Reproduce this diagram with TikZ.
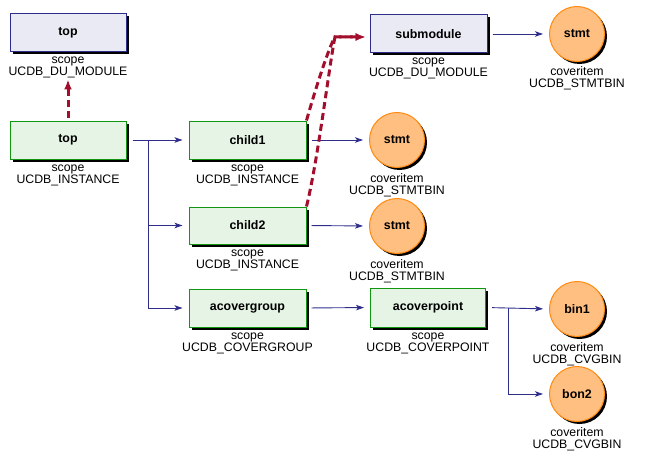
\documentclass[tikz,border=0pt]{standalone}
\usepackage{fontspec}
\setmainfont{Liberation Sans}
\usetikzlibrary{shadows,arrows.meta,positioning}
\definecolor{modfill}{HTML}{EAEAF4}
\definecolor{moddraw}{HTML}{2E2E8A}
\definecolor{instfill}{HTML}{E6F4E6}
\definecolor{instdraw}{HTML}{129612}
\definecolor{itemfill}{HTML}{FFBF80}
\definecolor{itemdraw}{HTML}{FF8A10}
\definecolor{flowcol}{HTML}{2E2E8A}
\definecolor{depcol}{HTML}{A30E2C}
\begin{document}
\begin{tikzpicture}[x=1pt,y=-1pt,
  font=\fontsize{12.3}{12.5}\selectfont,
  shadowed/.style={drop shadow={shadow xshift=2.5pt,shadow yshift=-2.5pt,opacity=1,fill=black}},
  modbox/.style={rectangle,draw=moddraw,fill=modfill,line width=1pt,minimum width=116pt,minimum height=38pt,inner sep=0pt,shadowed,font=\fontsize{12.4}{13}\selectfont\bfseries},
  instbox/.style={modbox,draw=instdraw,fill=instfill},
  itemcirc/.style={circle,draw=itemdraw,fill=itemfill,line width=1pt,minimum size=55pt,inner sep=0pt,shadowed,font=\fontsize{12.4}{13}\selectfont\bfseries},
  lbl/.style={align=center,inner sep=0pt,anchor=north},
  flow/.style={draw=flowcol,line width=0.9pt,-{Stealth[length=8pt,width=5.5pt,inset=2pt]},shorten >=6pt},
  dep/.style={draw=depcol,line width=3pt,dash pattern=on 7pt off 4pt,-{Latex[length=10pt,width=8pt]}},
]
\useasboundingbox (0,0) rectangle (648,460);
% nodes
\node[modbox] (dutop) at (68,33) {top};
\node[lbl] (dutoplbl) at ([yshift=-4pt]dutop.south) {scope\\UCDB\_DU\_MODULE};
\node[instbox] (top) at (68,140) {top};
\node[lbl] (toplbl) at ([yshift=-5pt]top.south) {scope\\UCDB\_INSTANCE};
\node[instbox,minimum width=117pt] (child1) at (247.5,140) {child1};
\node[lbl] (child1lbl) at ([yshift=-5pt]child1.south) {scope\\UCDB\_INSTANCE};
\node[instbox,minimum width=117pt,minimum height=37pt] (child2) at (247.5,225.5) {child2};
\node[lbl] (child2lbl) at ([yshift=-5pt]child2.south) {scope\\UCDB\_INSTANCE};
\node[instbox,minimum width=117pt] (acg) at (247.5,308) {acovergroup};
\node[lbl] (acglbl) at ([yshift=-5pt]acg.south) {scope\\UCDB\_COVERGROUP};
\node[instbox,minimum width=115pt,minimum height=39pt] (acp) at (428,307.5) {acoverpoint};
\node[lbl] (acplbl) at ([yshift=-5pt]acp.south) {scope\\UCDB\_COVERPOINT};
\node[modbox,minimum width=117pt] (sub) at (428.5,34) {submodule};
\node[lbl] (sublbl) at ([yshift=-4pt]sub.south) {scope\\UCDB\_DU\_MODULE};
\node[itemcirc] (stmt0) at (577,34) {stmt};
\node[lbl] (stmt0lbl) at ([yshift=-4pt]stmt0.south) {coveritem\\UCDB\_STMTBIN};
\node[itemcirc] (stmt1) at (397,140) {stmt};
\node[lbl] (stmt1lbl) at ([yshift=-5pt]stmt1.south) {coveritem\\UCDB\_STMTBIN};
\node[itemcirc] (stmt2) at (397,226) {stmt};
\node[lbl] (stmt2lbl) at ([yshift=-5pt]stmt2.south) {coveritem\\UCDB\_STMTBIN};
\node[itemcirc] (bin1) at (577,309) {bin1};
\node[lbl] (bin1lbl) at ([yshift=-5pt]bin1.south) {coveritem\\UCDB\_CVGBIN};
\node[itemcirc] (bon2) at (577,394) {bon2};
\node[lbl] (bon2lbl) at ([yshift=-5pt]bon2.south) {coveritem\\UCDB\_CVGBIN};
% blue flow connectors
\draw[flow,shorten <=6pt] (top.east) -- (child1.west);
\draw[flow] ([xshift=22pt]top.east) |- (child2.west);
\draw[flow] ([xshift=22pt]top.east) |- (acg.west);
\draw[flow,shorten <=5pt] (child1.east) -- (stmt1.west);
\draw[flow,shorten <=5pt] (child2.east) -- (stmt2.west);
\draw[flow,shorten <=5pt] (acg.east) -- (acp.west);
\draw[flow,shorten <=5pt] (sub.east) -- (stmt0.west);
\draw[flow,shorten <=6pt] (acp.east) -- (bin1.west);
\draw[flow] ([xshift=22pt]acp.east) |- (bon2.west);
% red dependency connectors
\coordinate (bend) at (335,37);
\draw[dep,shorten <=3pt,shorten >=1pt] (top.north) -- (dutoplbl.south);
\draw[dep,shorten >=4pt] (child1.north east) .. controls (318,80) and (330,45) .. (bend) -- (sub.west |- bend);
\draw[dep,shorten >=4pt] (child2.north east) .. controls (318,160) and (330,60) .. (bend) -- (sub.west |- bend);
\end{tikzpicture}
\end{document}
